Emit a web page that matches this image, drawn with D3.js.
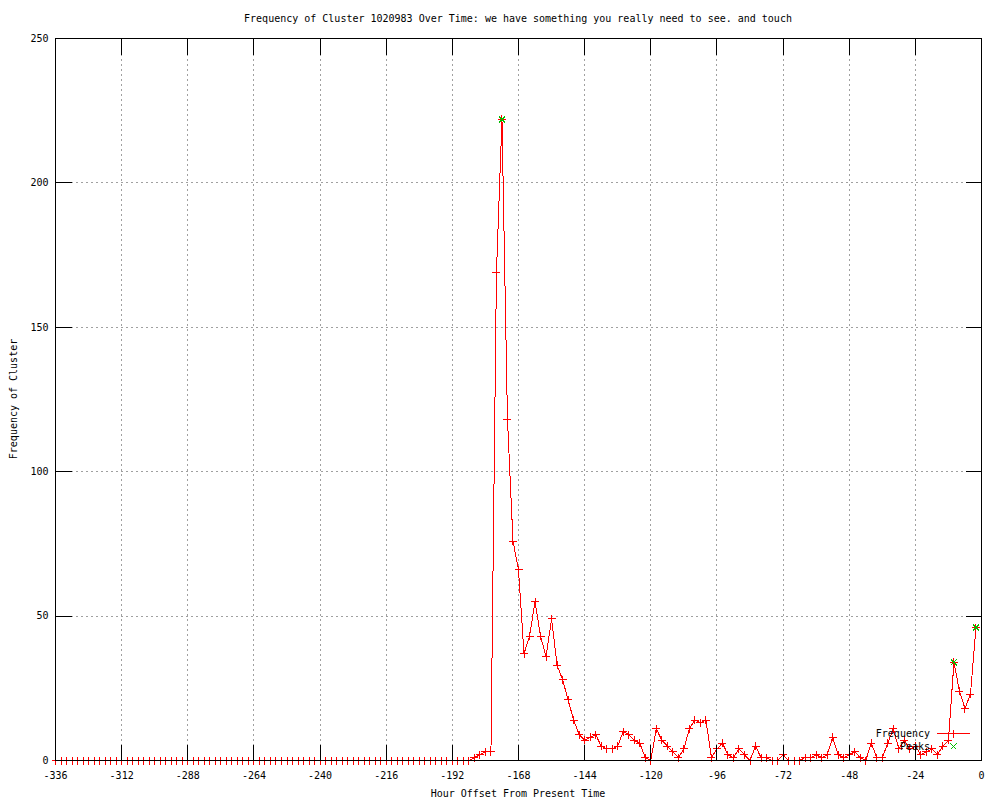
<!DOCTYPE html>
<html>
<head>
<meta charset="utf-8">
<script src="https://cdn.jsdelivr.net/npm/d3@7"></script>
<style>
body { margin: 0; background: #fff; }
text { font-family: "DejaVu Sans Mono", "Liberation Mono", monospace; font-size: 10px; fill: #000; }
</style>
</head>
<body>
<div id="canvas"></div>
<script>
const title = "Frequency of Cluster 1020983 Over Time: we have something you really need to see. and touch";
const xLabel = "Hour Offset From Present Time";
const yLabel = "Frequency of Cluster";
const xTicks = [-336, -312, -288, -264, -240, -216, -192, -168, -144, -120, -96, -72, -48, -24, 0];
const yTicks = [0, 50, 100, 150, 200, 250];

// one sample every 2 hours, -336 .. -2
const hours = d3.range(-336, 0, 2);
const frequency = [
  0, 0, 0, 0, 0, 0, 0, 0, 0, 0, 0, 0, 0, 0, 0, 0, 0, 0, 0, 0,
  0, 0, 0, 0, 0, 0, 0, 0, 0, 0, 0, 0, 0, 0, 0, 0, 0, 0, 0, 0,
  0, 0, 0, 0, 0, 0, 0, 0, 0, 0, 0, 0, 0, 0, 0, 0, 0, 0, 0, 0,
  0, 0, 0, 0, 0, 0, 0, 0, 0, 0, 0, 0, 0, 0, 0, 0,
  1, 2, 3, 3, 169, 222, 118, 76, 66, 37,
  43, 55, 43, 36, 49, 33, 28, 21, 14, 9,
  7, 8, 9, 5, 4, 4, 5, 10, 9, 7,
  6, 1, 0, 11, 7, 5, 3, 1, 4, 11,
  14, 13, 14, 1, 4, 6, 2, 1, 4, 2,
  0, 5, 1, 1, 0, 0, 2, 0, 0, 0,
  1, 1, 2, 1, 2, 8, 2, 1, 2, 3,
  1, 0, 6, 1, 1, 6, 11, 4, 7, 4,
  5, 2, 3, 4, 2, 5, 7, 34, 24, 18,
  23, 46
];
const peakHours = [-174, -10, -2];
const peakValues = [222, 34, 46];

const w = 1000, h = 800;
const svg = d3.select("#canvas")
            .append("svg")
                .attr("width", w)
                .attr("height", h)
                .attr("viewBox", [0, 0, w, h]);

svg.append("rect").attr("width", w).attr("height", h).attr("fill", "#fff");

const x = d3.scaleLinear().domain([-336, 0]).range([55.5, 981.5]);
const y = d3.scaleLinear().domain([0, 250]).range([760.5, 38.5]);

// grid
const grid = svg.append("g")
    .attr("stroke", "#a0a0a0")
    .attr("stroke-dasharray", "2,3")
    .attr("shape-rendering", "crispEdges");
grid.selectAll("line.gx")
        .data(xTicks.slice(1, -1))
    .enter().append("line")
        .attr("x1", d => x(d)).attr("x2", d => x(d))
        .attr("y1", y(0)).attr("y2", y(250));
grid.selectAll("line.gy")
        .data(yTicks.slice(1, -1))
    .enter().append("line")
        .attr("x1", x(-336)).attr("x2", x(0))
        .attr("y1", d => y(d)).attr("y2", d => y(d));

// data line and markers
const line = d3.line().x(d => x(d[0])).y(d => y(d[1]));
const pts = hours.map((hr, i) => [hr, frequency[i]]);

svg.append("path")
    .datum(pts)
    .attr("d", line)
    .attr("fill", "none")
    .attr("stroke", "#ff0000")
    .attr("stroke-width", 1)
    .attr("shape-rendering", "crispEdges");

const plus = "M-4,0H4M0,-4V4";
const cross = "M-3,-3L3,3M3,-3L-3,3";

svg.append("g").selectAll("path")
        .data(pts)
    .enter().append("path")
        .attr("d", plus)
        .attr("transform", d => "translate(" + x(d[0]) + "," + y(d[1]) + ")")
        .attr("stroke", "#ff0000")
        .attr("shape-rendering", "crispEdges");

svg.append("g").selectAll("path")
        .data(peakHours.map((hr, i) => [hr, peakValues[i]]))
    .enter().append("path")
        .attr("d", cross)
        .attr("transform", d => "translate(" + x(d[0]) + "," + y(d[1]) + ")")
        .attr("stroke", "#00c000")
        .attr("shape-rendering", "crispEdges");

// axes (ticks inward, mirrored)
function styleAxis(g) {
    g.attr("font-family", null).attr("font-size", null);
    g.select(".domain").remove();
    g.selectAll(".tick line").attr("stroke", "#000").attr("shape-rendering", "crispEdges");
    g.selectAll(".tick text").attr("fill", "#000");
}

const xAxis = d3.axisBottom(x).tickValues(xTicks).tickSizeInner(-16).tickSizeOuter(0)
    .tickPadding(11).offset(0).tickFormat(d => String(d));
svg.append("g").attr("transform", "translate(0," + y(0) + ")").call(xAxis).call(styleAxis);

svg.append("g").attr("transform", "translate(0," + y(250) + ")")
    .call(d3.axisTop(x).tickValues(xTicks).tickSizeInner(-16).tickSizeOuter(0).offset(0).tickFormat(""))
    .call(styleAxis);

const yAxis = d3.axisLeft(y).tickValues(yTicks).tickSizeInner(-16).tickSizeOuter(0)
    .tickPadding(7).offset(0).tickFormat(d => String(d));
svg.append("g").attr("transform", "translate(" + x(-336) + ",0)").call(yAxis).call(styleAxis);

svg.append("g").attr("transform", "translate(" + x(0) + ",0)")
    .call(d3.axisRight(y).tickValues(yTicks).tickSizeInner(-16).tickSizeOuter(0).offset(0).tickFormat(""))
    .call(styleAxis);

// border
svg.append("rect")
    .attr("x", x(-336)).attr("y", y(250))
    .attr("width", x(0) - x(-336)).attr("height", y(0) - y(250))
    .attr("fill", "none").attr("stroke", "#000")
    .attr("shape-rendering", "crispEdges");

// labels
svg.append("text").attr("x", 518).attr("y", 22).attr("text-anchor", "middle").text(title);
svg.append("text").attr("x", 518).attr("y", 797).attr("text-anchor", "middle").text(xLabel);
svg.append("text").attr("transform", "translate(17,399) rotate(-90)")
    .attr("text-anchor", "middle").text(yLabel);

// key
const key = svg.append("g");
key.append("text").attr("x", 930).attr("y", 737).attr("text-anchor", "end").text("Frequency");
key.append("line").attr("x1", 937).attr("x2", 970).attr("y1", 733.5).attr("y2", 733.5)
    .attr("stroke", "#ff0000").attr("shape-rendering", "crispEdges");
key.append("path").attr("d", plus).attr("transform", "translate(953.5,733.5)")
    .attr("stroke", "#ff0000").attr("shape-rendering", "crispEdges");
key.append("text").attr("x", 930).attr("y", 750).attr("text-anchor", "end").text("Peaks");
key.append("path").attr("d", cross).attr("transform", "translate(953.5,746.5)")
    .attr("stroke", "#00c000").attr("shape-rendering", "crispEdges");
</script>
</body>
</html>
